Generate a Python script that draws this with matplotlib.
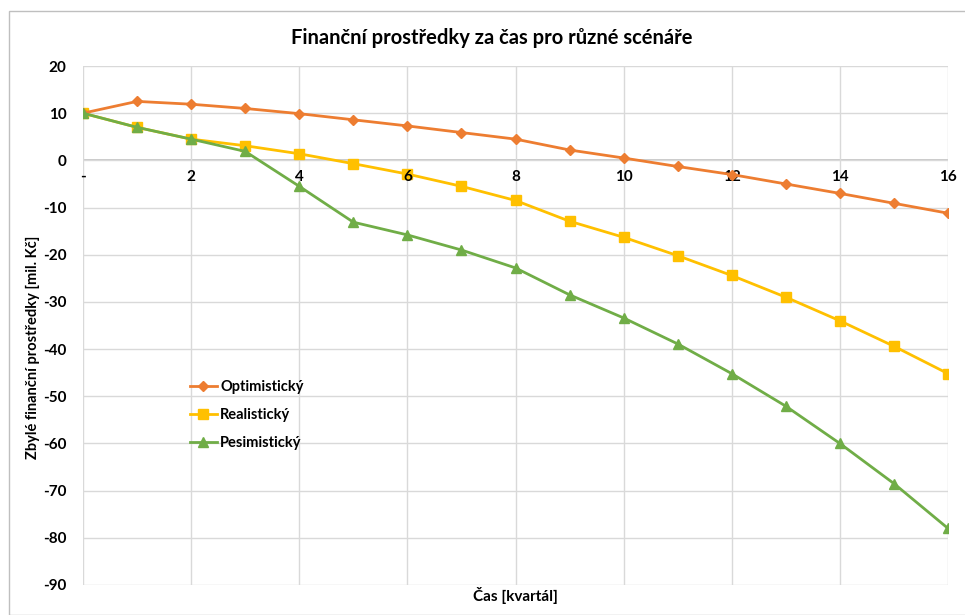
#!/usr/bin/env python3
"""Zbyle financni prostredky pro tri scenare (optimisticky, realisticky,
pesimisticky) v case po kvartalech."""
import numpy as np
import matplotlib.pyplot as plt
from matplotlib.patches import Rectangle

# ---------------------------------------------------------------- data
kvartaly = list(range(17))
optimisticky = [10, 12.5, 11.9, 11.0, 9.9, 8.6, 7.3, 5.9, 4.5, 2.2, 0.5,
                -1.3, -3.0, -5.0, -7.0, -9.1, -11.2]
realisticky = [10, 7.0, 4.5, 3.1, 1.4, -0.7, -2.9, -5.5, -8.5, -12.9, -16.3,
               -20.2, -24.4, -29.0, -34.0, -39.4, -45.2]
pesimisticky = [10, 7.0, 4.5, 1.9, -5.5, -13.1, -15.8, -19.0, -22.8, -28.5,
                -33.4, -38.9, -45.2, -52.1, -60.0, -68.5, -78.0]

x_ticks = [0, 2, 4, 6, 8, 10, 12, 14, 16]
x_labels = ['-', '2', '4', '6', '8', '10', '12', '14', '16']
y_ticks = list(range(-90, 21, 10))

plt.rcParams['font.family'] = ['Lato', 'DejaVu Sans']
plt.rcParams['font.weight'] = 'bold'
plt.rcParams['axes.unicode_minus'] = False

W, H = 965, 615
fig = plt.figure(figsize=(W / 100, H / 100), dpi=100)

# ramecek grafu (jen horni a leva hrana jsou videt)
fig.patches.append(Rectangle((9 / W, 0), 1.0, 1 - 11 / H, transform=fig.transFigure,
                             fill=False, edgecolor='#bfbfbf', lw=1.0))

ax = fig.add_axes([83 / W, (H - 585) / H, 865 / W, 519 / H])

ax.plot(kvartaly, optimisticky, color='#ED7D31', lw=2.0, marker='D',
        markersize=5.5, label='Optimistický', zorder=4)
ax.plot(kvartaly, realisticky, color='#FFC000', lw=2.0, marker='s',
        markersize=7.5, label='Realistický', zorder=3)
ax.plot(kvartaly, pesimisticky, color='#70AD47', lw=2.0, marker='^',
        markersize=7.5, label='Pesimistický', zorder=5)

ax.set_xlim(0, 16)
ax.set_ylim(-90, 20)
ax.set_yticks(y_ticks)
ax.set_xticks(x_ticks)
ax.set_xticklabels([])
ax.tick_params(axis='y', length=0, labelsize=11, pad=12)
ax.tick_params(axis='x', length=0)
for t in ax.get_yticklabels():
    t.set_fontweight('bold')

# popisky osy x lezi pod nulovou carou
for xv, lab in zip(x_ticks, x_labels):
    ax.text(xv, -2.0, lab, ha='center', va='top', fontsize=11,
            fontweight='bold')

ax.grid(True, color='#d9d9d9', lw=1.0)
ax.axhline(0, color='#bfbfbf', lw=1.2, zorder=1)
for s in ax.spines.values():
    s.set_visible(False)

# popisky os
fig.text(515 / W, 1 - 596 / H, 'Čas [kvartál]', ha='center', va='center',
         fontsize=11, fontweight='bold')
fig.text(33 / W, 1 - 347 / H, 'Zbylé finanční prostředky [mil. Kč]',
         ha='center', va='center', rotation=90, fontsize=10.5,
         fontweight='bold')

fig.text(492 / W, 1 - 38 / H, 'Finanční prostředky za čas pro různé scénáře',
         ha='center', va='center', fontsize=14.5, fontweight='bold')

ax.legend(loc='upper left', bbox_to_anchor=(0.108, 0.42), frameon=False,
          handlelength=1.9, handletextpad=0.2, labelspacing=0.95,
          prop={'weight': 'bold', 'size': 10.5})

fig.savefig('out.png', dpi=100)
